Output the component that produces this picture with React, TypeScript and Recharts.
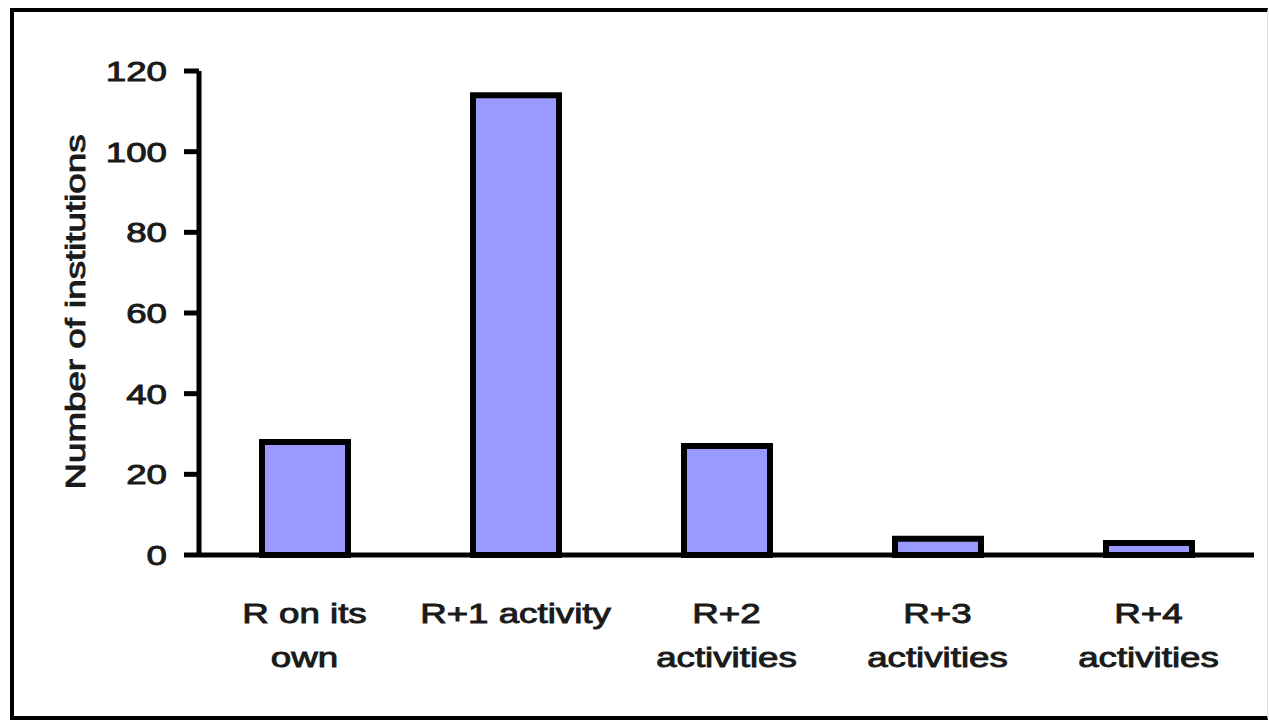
import { BarChart, Bar, XAxis, YAxis } from "recharts";

const categories = [
  "R on its\nown",
  "R+1 activity",
  "R+2\nactivities",
  "R+3\nactivities",
  "R+4\nactivities",
];
const institutions = [28, 114, 27, 4, 3];
const yTicks = [0, 20, 40, 60, 80, 100, 120];

const data = categories.map((name, i) => ({ name, value: institutions[i] }));

// slightly heavier than regular weight: a thin outline around each glyph
const textStyle = {
  fontFamily: "'Liberation Sans', Arial, sans-serif",
  fontSize: 27,
  fill: "#1a1a1a",
  stroke: "#1a1a1a",
  strokeWidth: 0.9,
};
// glyphs in this chart are drawn wide, so stretch text along its baseline
const STRETCH = 1.36;

const XTick = ({ x, payload }: any) => {
  const lines = String(payload.value).split("\n");
  return (
    <g>
      {lines.map((line, i) => (
        <text
          key={i}
          transform={`translate(${x},${623 + i * 44}) scale(${STRETCH},1)`}
          textAnchor="middle"
          {...textStyle}
        >
          {line}
        </text>
      ))}
    </g>
  );
};

const YTick = ({ y, payload }: any) => (
  <text
    transform={`translate(167,${y + 10}) scale(${STRETCH},1)`}
    textAnchor="end"
    {...textStyle}
  >
    {payload.value}
  </text>
);

export default function App() {
  return (
    <div
      style={{
        position: "absolute",
        left: 0,
        top: 0,
        width: 1269,
        height: 720,
        background: "#fff",
      }}
    >
      {/* outer frame */}
      <div
        style={{
          position: "absolute",
          left: 10,
          top: 8,
          width: 1253,
          height: 704,
          borderLeft: "4px solid #000",
          borderTop: "4px solid #000",
          borderBottom: "4px solid #000",
          borderRight: "1px solid #e4e4e4",
        }}
      />
      <div style={{ position: "absolute", left: 0, top: 0 }}>
        <BarChart
          width={1269}
          height={720}
          data={data}
          margin={{ top: 71, right: 15, bottom: 135, left: 0 }}
        >
          <XAxis
            dataKey="name"
            height={30}
            interval={0}
            tickLine={false}
            axisLine={{ stroke: "#000", strokeWidth: 5 }}
            tick={<XTick />}
          />
          <YAxis
            width={199}
            domain={[0, 120]}
            ticks={yTicks}
            interval={0}
            tickSize={15}
            tickLine={{ stroke: "#000", strokeWidth: 5 }}
            axisLine={{ stroke: "#000", strokeWidth: 5 }}
            tick={<YTick />}
          />
          <Bar
            dataKey="value"
            fill="#9999ff"
            stroke="#000"
            strokeWidth={6}
            barSize={86}
            isAnimationActive={false}
          />
        </BarChart>
      </div>
      <svg
        width={1269}
        height={720}
        style={{ position: "absolute", left: 0, top: 0, pointerEvents: "none" }}
      >
        <text
          transform={`translate(85,312) rotate(-90) scale(${STRETCH},1)`}
          textAnchor="middle"
          {...textStyle}
        >
          Number of institutions
        </text>
      </svg>
    </div>
  );
}
